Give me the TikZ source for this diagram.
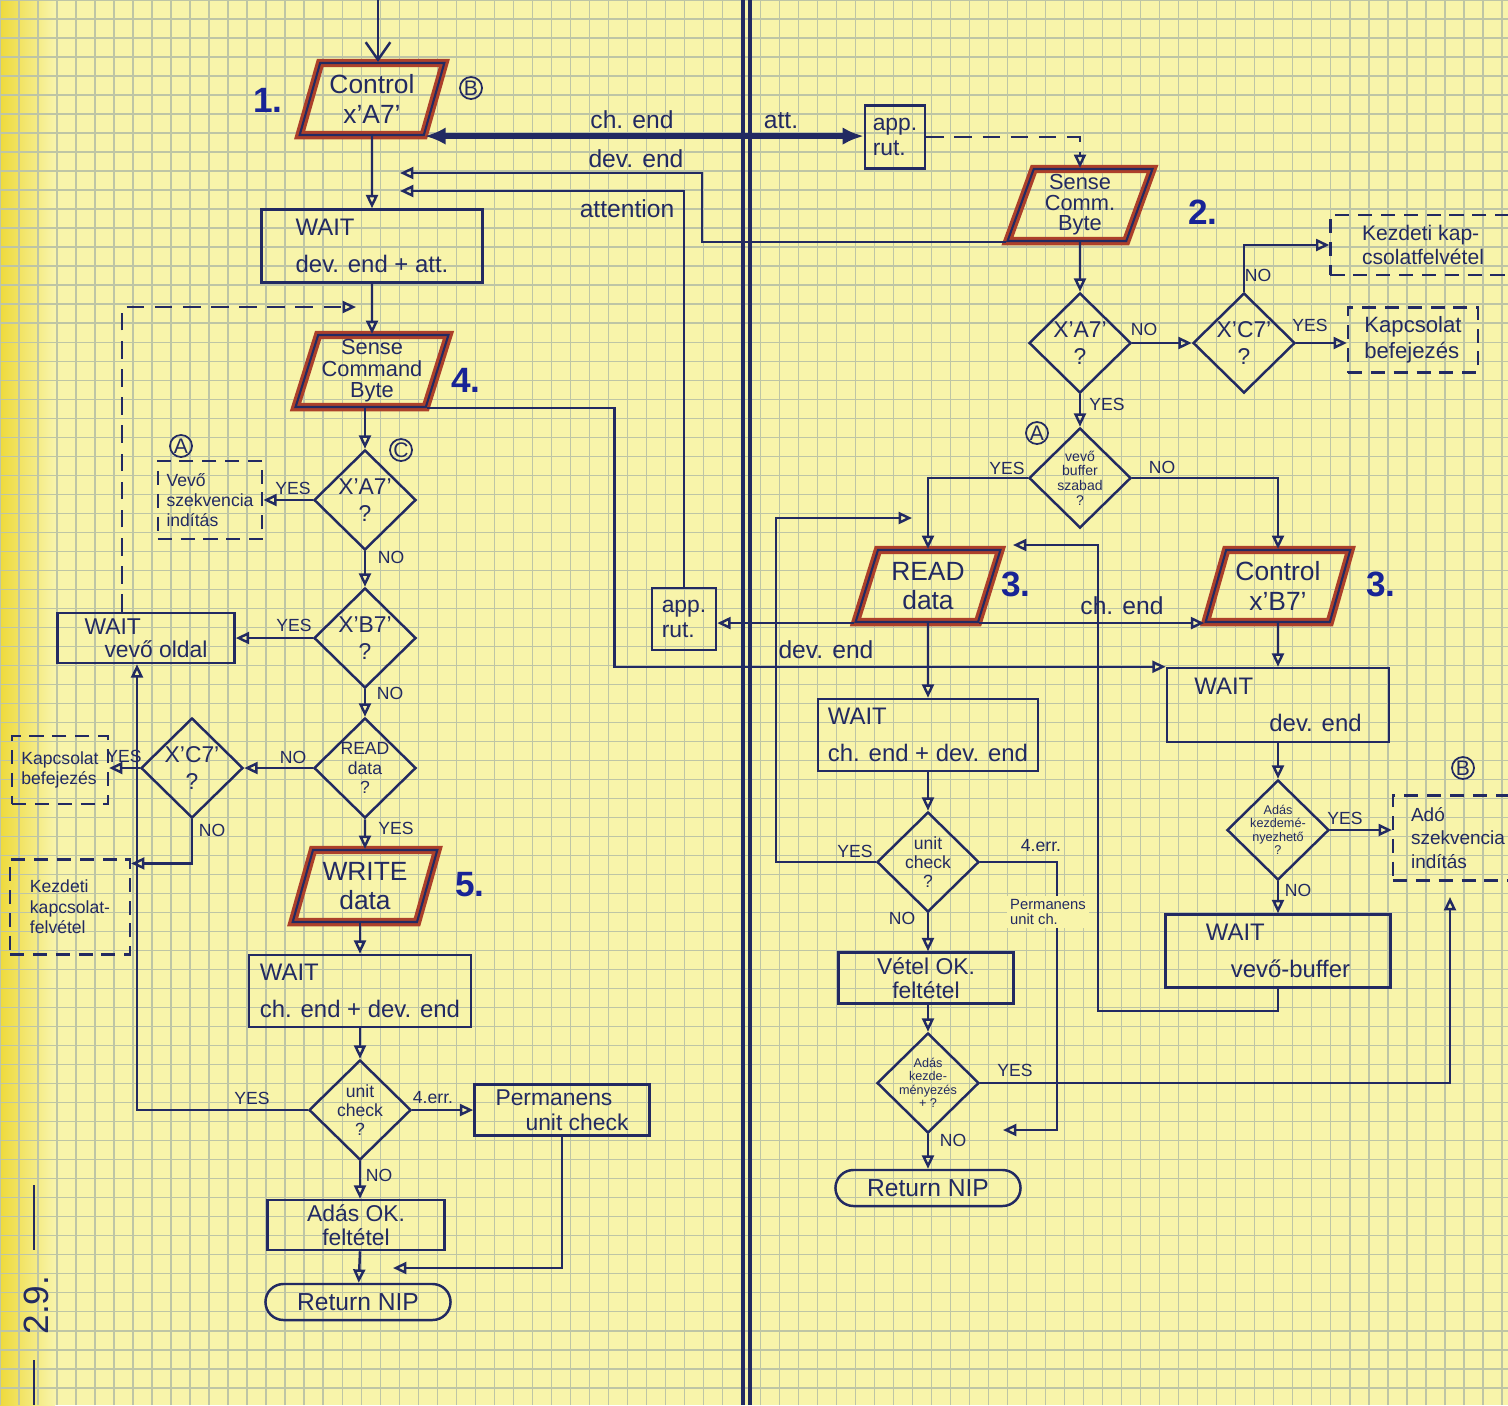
\documentclass[tikz,border=0pt]{standalone}
\usepackage{fontspec}
\setmainfont{Liberation Sans}
\usetikzlibrary{shapes.geometric, arrows.meta, positioning, calc}

\definecolor{paper}{RGB}{248,244,170}
\definecolor{margin}{RGB}{238,218,60}
\definecolor{gridline}{RGB}{190,197,165}
\definecolor{ink}{RGB}{34,42,98}
\definecolor{rust}{RGB}{172,64,42}
\definecolor{stepblue}{RGB}{24,36,150}

\begin{document}
\begin{tikzpicture}[
    x=0.01cm, y=-0.01cm, color=ink,
    proc/.style={rectangle, draw=ink, line width=0.7pt, minimum width=2.2cm, minimum height=0.72cm, inner sep=2pt, align=left, font=\fontsize{6.8}{7.5}\selectfont},
    io/.style={trapezium, trapezium left angle=72, trapezium right angle=108, trapezium stretches=true, draw=ink, line width=0.6pt, preaction={draw=rust, line width=2.4pt}, minimum width=1.45cm, minimum height=0.72cm, inner sep=1pt, align=center, font=\fontsize{7.5}{8.5}\selectfont},
    decision/.style={diamond, draw=ink, line width=0.7pt, minimum width=1.02cm, minimum height=1.0cm, inner sep=0pt, align=center, font=\fontsize{6.5}{7.5}\selectfont},
    note/.style={rectangle, draw=ink, line width=0.6pt, dash pattern=on 4pt off 2.5pt, inner sep=2.5pt, align=left, font=\fontsize{5}{5.8}\selectfont},
    term/.style={rectangle, rounded corners=0.18cm, draw=ink, line width=0.7pt, minimum width=1.85cm, minimum height=0.36cm, inner sep=1pt, font=\fontsize{7}{8}\selectfont},
    arrow/.style={draw=ink, line width=0.7pt, -{Triangle[open, length=3.8pt, width=3.4pt]}},
    dasharrow/.style={arrow, dash pattern=on 5pt off 3pt},
    boldarrow/.style={draw=ink, line width=1.7pt, {Latex[length=6pt, width=5pt]}-{Latex[length=6pt, width=5pt]}},
    entry/.style={draw=ink, line width=0.7pt, -{Straight Barb[length=5pt, width=7pt]}},
    lbl/.style={inner sep=1pt, font=\fontsize{5}{5.5}\selectfont},
    hand/.style={inner sep=1pt, font=\fontsize{7}{8}\selectfont},
    stepno/.style={inner sep=0pt, text=stepblue, font=\bfseries\fontsize{10}{10}\selectfont},
    conn/.style={circle, draw=ink, line width=0.5pt, minimum size=0.22cm, inner sep=0pt, font=\fontsize{6}{6}\selectfont}
]

% Paper
\useasboundingbox (0,0) rectangle (1508,1405);
\clip (0,0) rectangle (1508,1405);
\fill [paper] (0,0) rectangle (1508,1405);
\shade [left color=margin, right color=paper] (0,0) rectangle (55,1405);
\draw [gridline, line width=0.4pt, step=0.19cm] (0,0) grid (1508,1405);
\draw [ink, line width=1pt] (743,0) -- (743,1405) (750,0) -- (750,1405);

% Nodes (left side)
\coordinate (start) at (378,0);
\node (ctlA) [io] at (372,99) {Control\\x'A7'};
\node (w1) [proc, minimum width=2.21cm, minimum height=0.73cm] at (372,246) {WAIT\\[3pt]dev. end + att.};
\node (scb) [io, font=\fontsize{6.2}{6.1}\selectfont] at (372,371) {Sense\\Command\\Byte};
\node (dA7) [decision] at (365,500) {X'A7'\\?};
\node (vszk) [note, minimum width=1.0cm, minimum height=0.78cm] at (210,500) {Vevő\\szekvencia\\indítás};
\node (dB7) [decision] at (365,638) {X'B7'\\?};
\node (wvo) [proc, minimum width=1.77cm, minimum height=0.5cm, inner sep=1pt, font=\fontsize{6.5}{6.5}\selectfont] at (146,638) {WAIT\\\hspace*{0.2cm}vevő oldal};
\node (dRd) [decision, font=\fontsize{5}{5.5}\selectfont] at (365,768) {READ\\data\\?};
\node (dC7) [decision] at (192,768) {X'C7'\\?};
\node (kbL) [note, minimum width=0.96cm, minimum height=0.68cm, inner sep=2pt] at (60,770) {Kapcsolat\\befejezés};
\node (kfL) [note, minimum width=1.2cm, minimum height=0.95cm] at (70,907) {Kezdeti\\kapcsolat-\\felvétel};
\node (wrt) [io] at (365,886) {WRITE\\data};
\node (w2) [proc, minimum width=2.22cm] at (360,991) {WAIT\\[3pt]ch. end + dev. end};
\node (dUc) [decision, font=\fontsize{5}{5.5}\selectfont] at (360,1110) {unit\\check\\?};
\node (perm) [proc, minimum width=1.75cm, minimum height=0.51cm, inner sep=1pt, font=\fontsize{6.5}{7}\selectfont] at (562,1110) {Permanens\\\hspace*{0.3cm}unit check};
\node (aok) [proc, align=center, minimum width=1.77cm, minimum height=0.5cm, inner sep=1pt, font=\fontsize{6.5}{7}\selectfont] at (356,1225) {Adás OK.\\feltétel};
\node (retL) [term] at (358,1302) {Return NIP};

% Nodes (right side)
\node (apr1) [proc, minimum width=0.6cm, minimum height=0.63cm, inner sep=1pt, font=\fontsize{6.5}{7}\selectfont] at (895,137) {app.\\rut.};
\node (scb2) [io, font=\fontsize{6.2}{5.8}\selectfont] at (1080,205) {Sense\\Comm.\\Byte};
\node (rA7) [decision] at (1080,343) {X'A7'\\?};
\node (rC7) [decision] at (1244,343) {X'C7'\\?};
\node (kbR) [note, minimum width=1.3cm, minimum height=0.65cm, font=\fontsize{6.3}{7.5}\selectfont] at (1413,340) {Kapcsolat\\befejezés};
\node (kfR) [note, minimum width=1.85cm, minimum height=0.6cm, font=\fontsize{6}{7}\selectfont] at (1423,245) {Kezdeti kap-\\csolatfelvétel};
\node (vbuf) [decision, font=\fontsize{4}{4.2}\selectfont] at (1080,478) {vevő\\buffer\\szabad\\?};
\node (rd) [io] at (928,586) {READ\\data};
\node (cB7) [io] at (1278,586) {Control\\x'B7'};
\node (apr2) [proc, minimum width=0.64cm, minimum height=0.62cm, inner sep=1pt, font=\fontsize{6.5}{7}\selectfont] at (684,619) {app.\\rut.};
\node (w3) [proc] at (928,735) {WAIT\\[3pt]ch. end + dev. end};
\node (rUc) [decision, font=\fontsize{5}{5.5}\selectfont] at (928,862) {unit\\check\\?};
\node (vok) [proc, align=center, minimum width=1.75cm, minimum height=0.51cm, inner sep=1pt, font=\fontsize{6.5}{7}\selectfont] at (926,978) {Vétel OK.\\feltétel};
\node (rAk) [decision, inner sep=-1.5pt, font=\fontsize{3.6}{3.8}\selectfont] at (928,1083) {Adás\\kezde-\\ményezés\\+ ?};
\node (retR) [term] at (928,1188) {Return NIP};
\node (w4) [proc, minimum width=2.22cm, minimum height=0.74cm] at (1278,705) {WAIT\\[3pt]\hspace*{0.75cm}dev. end};
\node (dAk) [decision, inner sep=-1.5pt, font=\fontsize{3.6}{3.8}\selectfont] at (1278,830) {Adás\\kezdemé-\\nyezhető\\?};
\node (adoR) [note, minimum width=1.3cm, minimum height=0.85cm, font=\fontsize{5.4}{6.6}\selectfont] at (1458,838) {Adó\\szekvencia\\indítás};
\node (w5) [proc, minimum width=2.25cm, minimum height=0.73cm] at (1278,951) {WAIT\\[3pt]\hspace*{0.25cm}vevő-buffer};

% Free ends
\coordinate (devin) at (400,173);
\coordinate (attin) at (400,191);
\coordinate (loopin) at (356,307);
\coordinate (permin) at (393,1268);
\coordinate (rdin) at (1013,545);
\coordinate (rdin2) at (912,518);
\coordinate (rakin) at (1003,1130);
\coordinate (adoin) at (1450,897);

% Arrows (left side)
\draw [entry] (start) -- (start |- ctlA.north);
\draw [boldarrow] (ctlA.bottom right corner) -- (ctlA.bottom right corner -| apr1.west);
\draw [arrow] (ctlA) -- (w1);
\draw [arrow] (w1) -- (scb);
\draw [arrow] (scb.south -| dA7.north) -- (dA7);
\draw [arrow] (dA7) -- (vszk);
\draw [arrow] (dA7) -- (dB7);
\draw [arrow] (dB7) -- (wvo);
\draw [arrow] (dB7) -- (dRd);
\draw [arrow] (dRd) -- (dC7);
\draw [arrow] (dC7) -- (dC7 -| kbL.east);
\draw [arrow] (dC7.south) |- ([yshift=-0.05cm]kfL.north east);
\draw [arrow] (dRd) -- (wrt);
\draw [arrow] (wrt.south -| w2.north) -- (w2);
\draw [arrow] (w2) -- (dUc);
\draw [arrow] (dUc.west) -| ([xshift=-0.09cm]wvo.south);
\draw [arrow] (dUc) -- (perm);
\draw [arrow] (dUc) -- (dUc |- aok.north);
\draw [arrow] (dUc |- aok.south) -- (retL);
\draw [arrow] (perm.south) |- (permin);
\draw [dasharrow] ([xshift=-0.24cm]wvo.north) |- (loopin);
\draw [arrow] (scb.bottom right corner) -- ++(188,0) |- (w4.north west);

% Arrows (right side)
\draw [dasharrow] (apr1) -| (scb2.north);
\draw [arrow] (scb2.bottom left corner) -- ++(-304,0) |- (devin);
\draw [arrow] (apr2) |- (attin);
\draw [arrow] (scb2) -- (rA7);
\draw [arrow] (rA7) -- (rC7);
\draw [arrow] (rC7) -- (rC7 -| kbR.west);
\draw [arrow] (rC7.north) |- (kfR.west);
\draw [arrow] (rA7) -- (vbuf);
\draw [arrow] (vbuf) -| (rd);
\draw [arrow] (vbuf) -| (cB7);
\draw [arrow] (rd) -- (w3);
\draw [arrow] (rd.bottom left corner) -- (rd.bottom left corner -| apr2.east);
\draw [arrow] (rd.bottom right corner) -- (cB7.bottom left corner);
\draw [arrow] (cB7) -- (w4);
\draw [arrow] (w4) -- (dAk);
\draw [arrow] (dAk) -- (dAk -| adoR.west);
\draw [arrow] (dAk) -- (w5);
\draw [arrow] (w5.south) -- ++(0,22) -| ($(rdin)+(85,0)$) -- (rdin);
\draw [arrow] (w3) -- (rUc);
\draw [arrow] (rUc.west) -| ++(-100,-344) -- (rdin2);
\draw [arrow] (rUc) -- (rUc |- vok.north);
\draw [arrow] (rUc.east) -| ++(77,268) -- (rakin);
\draw [arrow] (rUc |- vok.south) -- (rAk);
\draw [arrow] (rAk.east) -| (adoin);
\draw [arrow] (rAk) -- (retR);

% Line labels
\node (chend1) [hand] at (632,120) {ch. end};
\node (attlbl) [hand] at (781,121) {att.};
\node (devlbl1) [hand] at (636,159) {dev. end};
\node (attnlbl) [hand] at (627,209) {attention};
\node (devlbl2) [hand] at (826,650) {dev. end};
\node (chend2) [hand] at (1122,606) {ch. end};
\node (permlbl) [lbl, fill=paper, align=left, font=\fontsize{4.2}{4.4}\selectfont] at (1048,912) {Permanens\\unit ch.};

\node (yesA7) [lbl] at (293,488) {YES};
\node (noA7) [lbl] at (391,557) {NO};
\node (yesB7) [lbl] at (294,625) {YES};
\node (noB7) [lbl] at (390,693) {NO};
\node (noRd) [lbl] at (293,757) {NO};
\node (yesC7) [lbl] at (124,756) {YES};
\node (noC7) [lbl] at (212,830) {NO};
\node (yesRd) [lbl] at (396,828) {YES};
\node (yesUc) [lbl] at (252,1098) {YES};
\node (errUc) [lbl] at (433,1098) {4.err.};
\node (noUc) [lbl] at (379,1175) {NO};

\node (noRA7) [lbl] at (1144,329) {NO};
\node (yesRC7) [lbl] at (1310,325) {YES};
\node (noRC7) [lbl] at (1258,275) {NO};
\node (yesRA7) [lbl] at (1107,404) {YES};
\node (yesBuf) [lbl] at (1007,468) {YES};
\node (noBuf) [lbl] at (1162,467) {NO};
\node (yesRUc) [lbl] at (855,851) {YES};
\node (errRUc) [lbl] at (1041,846) {4.err.};
\node (noRUc) [lbl] at (902,918) {NO};
\node (yesRAk) [lbl] at (1015,1070) {YES};
\node (noRAk) [lbl] at (953,1140) {NO};
\node (yesAk) [lbl] at (1345,818) {YES};
\node (noAk) [lbl] at (1298,890) {NO};

% Step numbers and connectors
\node (st1) [stepno] at (268,100) {1.};
\node (st4) [stepno] at (466,380) {4.};
\node (st5) [stepno] at (470,885) {5.};
\node (st2) [stepno] at (1203,212) {2.};
\node (st3a) [stepno] at (1016,584) {3.};
\node (st3b) [stepno] at (1381,584) {3.};

\node (cB1) [conn] at (471,88) {B};
\node (cC) [conn] at (401,450) {C};
\node (cA1) [conn] at (181,446) {A};
\node (cA2) [conn] at (1037,433) {A};
\node (cB2) [conn] at (1463,768) {B};

% Page number
\node (pgno) [rotate=90, font=\fontsize{10}{10}\selectfont] at (36,1305) {2.9.};
\draw [line width=0.8pt] (34,1185) -- (34,1250) (34,1360) -- (34,1405);

\end{tikzpicture}
\end{document}
